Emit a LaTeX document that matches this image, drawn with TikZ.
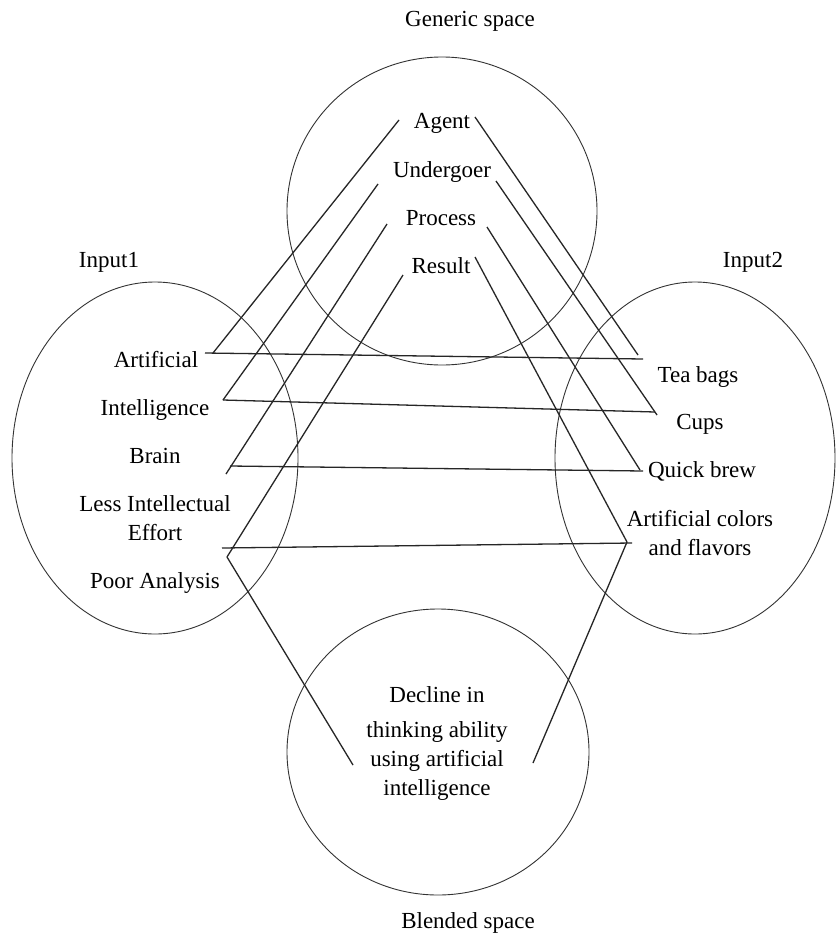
\documentclass[tikz,border=0pt]{standalone}
\usepackage{fontspec}
\setmainfont{Liberation Serif}
\begin{document}
\begin{tikzpicture}[x=1pt,y=-1pt,
  lbl/.style={font=\fontsize{23}{29}\selectfont, inner sep=0pt, anchor=base, align=center},
  space/.style={draw=black!80, line width=0.9pt},
  link/.style={draw=black!85, line width=1.3pt}]
\useasboundingbox[fill=white] (0,0) rectangle (836,937);

% the four mental spaces
\draw[space] (442,211) ellipse [x radius=155pt, y radius=154pt];
\draw[space] (155,458) ellipse [x radius=143pt, y radius=176pt];
\draw[space] (695,458) ellipse [x radius=140pt, y radius=176pt];
\draw[space] (438,752) ellipse [x radius=151pt, y radius=143pt];

% space titles (multi-line labels sit on the baseline of their last line)
\node[lbl] (generic) at (470,26) {Generic space};
\node[lbl] (input1) at (109,267) {Input1};
\node[lbl] (input2) at (753,267) {Input2};
\node[lbl] (blended) at (468,928) {Blended space};

% generic space roles
\node[lbl] (agent) at (442,128) {Agent};
\node[lbl] (undergoer) at (442,177) {Undergoer};
\node[lbl] (process) at (441,225) {Process};
\node[lbl] (result) at (441,273) {Result};

% input 1 elements
\node[lbl] (artificial) at (156,367) {Artificial};
\node[lbl] (intelligence) at (155,415) {Intelligence};
\node[lbl] (brain) at (155,463) {Brain};
\node[lbl] (effort) at (155,540) {Less Intellectual\\Effort};
\node[lbl] (poor) at (155,588) {Poor Analysis};

% input 2 elements
\node[lbl] (teabags) at (698,382) {Tea bags};
\node[lbl] (cups) at (700,429) {Cups};
\node[lbl] (quickbrew) at (702,477) {Quick brew};
\node[lbl] (colors) at (700,555) {Artificial colors\\and flavors};

% blended space
\node[lbl] (decline) at (437,795) {Decline in\\[6pt]thinking ability\\using artificial\\intelligence};

% connector ports
\coordinate (agent-l) at (399,120);
\coordinate (agent-r) at (475,117);
\coordinate (undergoer-l) at (378,184);
\coordinate (undergoer-r) at (496,181);
\coordinate (process-l) at (387,224);
\coordinate (process-r) at (487,227);
\coordinate (result-l) at (403,275);
\coordinate (result-r) at (475,257);

\coordinate (artificial-a) at (213,353);
\coordinate (artificial-e) at (205,353);
\coordinate (intelligence-e) at (223,400);
\coordinate (brain-a) at (226,474);
\coordinate (brain-e) at (230,466);
\coordinate (effort-e) at (222,548);
\coordinate (poor-a) at (227,557);

\coordinate (teabags-a) at (638,355);
\coordinate (teabags-e) at (643,359);
\coordinate (cups-a) at (657,415);
\coordinate (cups-e) at (655,412);
\coordinate (quickbrew-a) at (640,470);
\coordinate (quickbrew-e) at (643,471);
\coordinate (colors-a) at (627,542);
\coordinate (colors-e) at (632,543);

\coordinate (decline-l) at (353,765);
\coordinate (decline-r) at (533,763);

% generic roles projected into the inputs
\draw[link] (agent-l) -- (artificial-a);
\draw[link] (agent-r) -- (teabags-a);
\draw[link] (undergoer-l) -- (intelligence-e);
\draw[link] (undergoer-r) -- (cups-a);
\draw[link] (process-l) -- (brain-a);
\draw[link] (process-r) -- (quickbrew-a);
\draw[link] (result-l) -- (poor-a);
\draw[link] (result-r) -- (colors-a);

% cross-space mappings
\draw[link] (artificial-e) -- (teabags-e);
\draw[link] (intelligence-e) -- (cups-e);
\draw[link] (brain-e) -- (quickbrew-e);
\draw[link] (effort-e) -- (colors-e);

% projection into the blend
\draw[link] (poor-a) -- (decline-l);
\draw[link] (colors-a) -- (decline-r);
\end{tikzpicture}
\end{document}
